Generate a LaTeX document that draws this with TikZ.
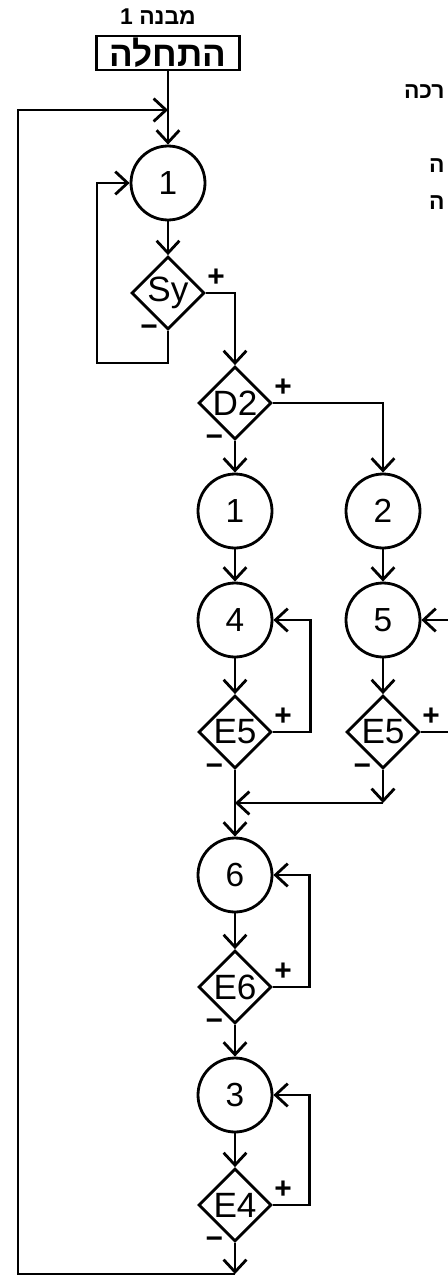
\documentclass[tikz,border=0pt]{standalone}
\usepackage{fontspec}
\setmainfont{Liberation Sans}
\newfontfamily\hebfont[Script=Hebrew]{Liberation Sans}
\TeXXeTstate=1
\usetikzlibrary{shapes.geometric,arrows.meta,positioning}

\begin{document}
\begin{tikzpicture}[x=0.02cm, y=-0.02cm, line width=1.6pt, >={Straight Barb[length=7pt,width=13pt]}]
		\tikzstyle{every node} = [font = \fontsize{19}{22}\selectfont]
		\tikzstyle{state} = [draw, circle, minimum size=1.48cm, inner sep=0pt]
		\tikzstyle{test} = [draw, diamond, minimum size=1.46cm, inner sep=0pt, font=\fontsize{20}{22}\selectfont]
		\tikzstyle{sgn} = [inner sep=0pt, font=\fontsize{17}{17}\selectfont\bfseries]
		\tikzstyle{heb} = [inner sep=0pt, font=\hebfont\bfseries\fontsize{13}{15}\selectfont]

		\useasboundingbox (0,0) rectangle (448,1277);

		% header
		\node[heb] (lbl) at (158,17) {\beginR מבנה 1\endR};
		\node[draw, minimum width=2.86cm, minimum height=0.68cm, inner sep=1pt, font=\hebfont\bfseries\fontsize{20}{22}\selectfont] (start) at (168,53) {\beginR התחלה\endR};
		\node[heb, anchor=east] (frag1) at (446,92) {\beginR רכה\endR};
		\node[heb, anchor=east] (frag2) at (446,166) {\beginR ה\endR};
		\node[heb, anchor=east] (frag3) at (446,203) {\beginR ה\endR};

		% states and tests
		\node[state] (c1a) at (168,183) {1};
		\node[test] (sy) at (168,293) {Sy};
		\node[test] (d2) at (235,403) {D2};
		\node[state] (c1b) at (235,511) {1};
		\node[state] (c2) at (383,511) {2};
		\node[state] (c4) at (235,620) {4};
		\node[state] (c5) at (383,620) {5};
		\node[test] (e5a) at (235,732) {E5};
		\node[test] (e5b) at (383,732) {E5};
		\node[state] (c6) at (235,875) {6};
		\node[test] (e6) at (235,987) {E6};
		\node[state] (c3) at (235,1095) {3};
		\node[test] (e4) at (235,1205) {E4};

		\coordinate (mtop) at (168,110);
		\coordinate (tl) at (18,110);
		\coordinate (syl) at (97,363);
		\coordinate (jl) at (235,803);
		\coordinate (jr) at (383,803);
		\coordinate (r5) at (470,620);
		\coordinate (r5b) at (470,732);
		\coordinate (bot) at (235,1274);

		% signs
		\node[sgn, above right=3pt and 0pt of sy.east] {+};
		\node[sgn, left=5pt of sy.south] {−};
		\node[sgn, above right=3pt and 0pt of d2.east] {+};
		\node[sgn, left=6pt of d2.south] {−};
		\node[sgn, above right=3pt and 0pt of e5a.east] {+};
		\node[sgn, left=6pt of e5a.south] {−};
		\node[sgn, above right=3pt and 0pt of e5b.east] {+};
		\node[sgn, left=6pt of e5b.south] {−};
		\node[sgn, above right=3pt and 0pt of e6.east] {+};
		\node[sgn, left=6pt of e6.south] {−};
		\node[sgn, above right=3pt and 0pt of e4.east] {+};
		\node[sgn, left=6pt of e4.south] {−};

		% connectors
		\draw[->] (start) -- (c1a);
		\draw[->] (bot) -| (tl) -- (mtop); %back to the top
		\draw[->] (c1a) -- (sy);
		\draw[->] (sy.south) |- (syl) |- (c1a.west); %Sy minus
		\draw[->] (sy.east) -| (d2.north); %Sy plus
		\draw[->] (d2) -- (c1b);
		\draw[->] (d2.east) -| (c2.north);
		\draw[->] (c1b) -- (c4);
		\draw[->] (c2) -- (c5);
		\draw[->] (c4) -- (e5a);
		\draw[->] (c5) -- (e5b);
		\draw[->] (e5a.east) -- ++(38,0) |- (c4.east);
		\draw (e5b.east) -- (r5b);
		\draw[->] (r5) -- (c5.east);
		\draw[->] (e5b) -- (jr);
		\draw[->] (jr) -- (jl); %join
		\draw[->] (e5a) -- (c6);
		\draw[->] (c6) -- (e6);
		\draw[->] (e6.east) -- ++(37,0) |- (c6.east);
		\draw[->] (e6) -- (c3);
		\draw[->] (c3) -- (e4);
		\draw[->] (e4.east) -- ++(37,0) |- (c3.east);
		\draw[->] (e4) -- (bot);
	\end{tikzpicture}
\end{document}
